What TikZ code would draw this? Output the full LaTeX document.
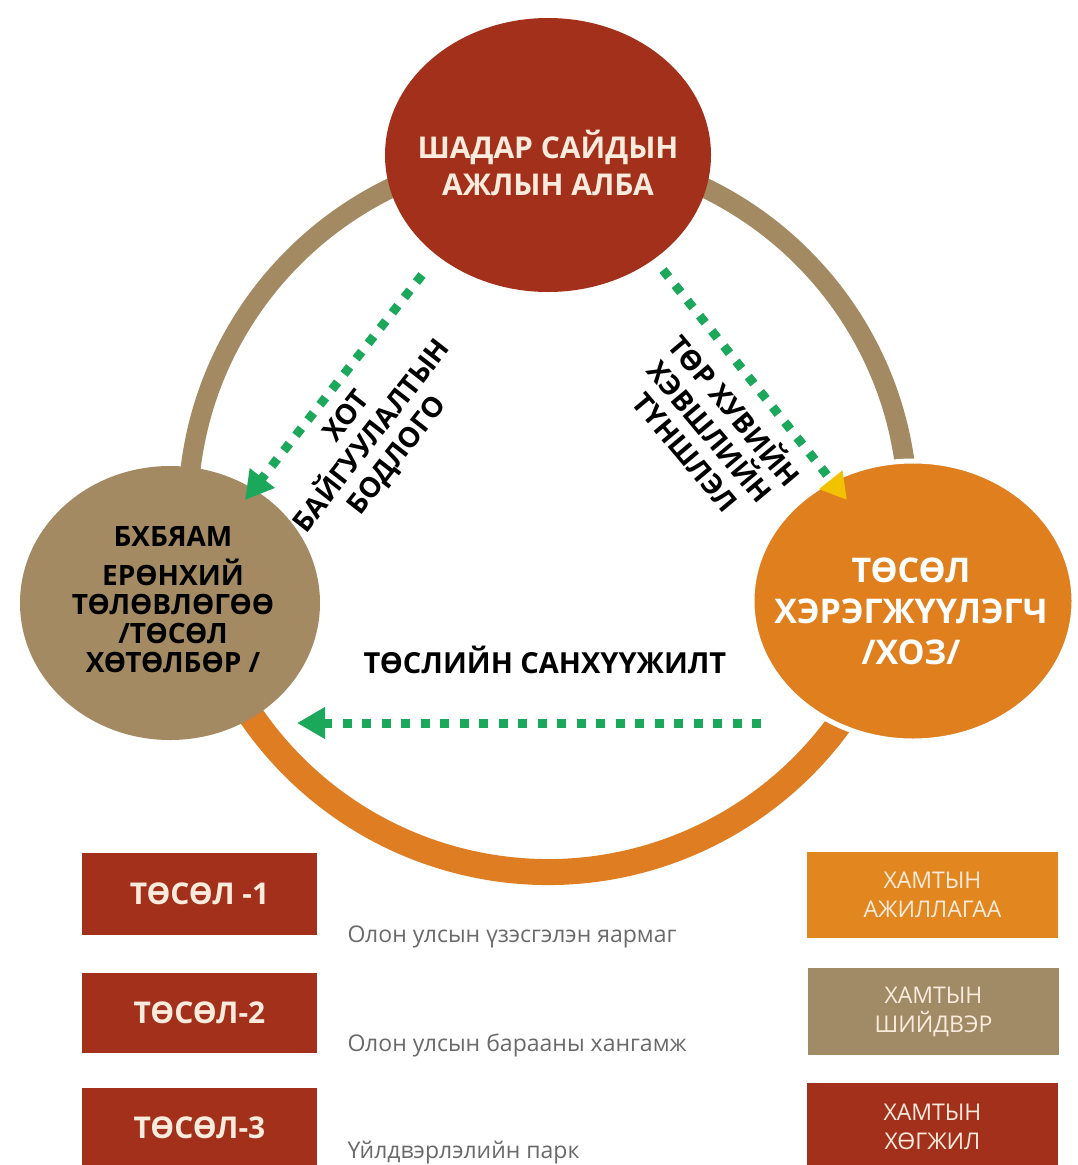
\documentclass[tikz,border=0pt]{standalone}
\usepackage{fontspec}
\setmainfont{Open Sans}
\usetikzlibrary{shapes.geometric,arrows.meta}
\definecolor{dred}{HTML}{A3301B}
\definecolor{tanc}{HTML}{A38A62}
\definecolor{tanb}{HTML}{A08B66}
\definecolor{oran}{HTML}{E07F1E}
\definecolor{ringor}{HTML}{DE7D22}
\definecolor{boxor}{HTML}{E2871F}
\definecolor{grn}{HTML}{1BA85B}
\definecolor{yel}{HTML}{F2C200}
\definecolor{cream}{HTML}{FBEBDD}
\definecolor{desc}{HTML}{6A6A6A}
\begin{document}
\begin{tikzpicture}[x=1pt,y=-1pt,
  circ/.style={ellipse,inner sep=0pt},
  ctext/.style={align=center,font=\bfseries\fontsize{30}{37}\selectfont},
  rlabel/.style={align=center,text=black,font=\bfseries\fontsize{28}{32}\selectfont},
  flow/.style={grn,line width=9pt,dash pattern=on 9pt off 10.5pt},
  tipg/.style={-{Triangle[length=28pt,width=30pt,color=grn]}},
  tipy/.style={-{Triangle[length=26pt,width=28pt,color=yel]}},
  lbox/.style={rectangle,inner sep=0pt,minimum width=235pt,minimum height=82pt,fill=dred,
    text=cream,font=\bfseries\fontsize{30}{32}\selectfont},
  rbox/.style={rectangle,inner sep=0pt,minimum width=251pt,minimum height=86pt,align=center,
    text=cream,font=\fontsize{23}{29}\selectfont},
  dtext/.style={anchor=west,text=desc,font=\fontsize{23}{26}\selectfont}]
\useasboundingbox (0,0) rectangle (1077,1165);
\fill[white] (0,0) rectangle (1077,1165);
% ring
\draw[tanc,line width=20pt] (548,512) circle[radius=360];
\draw[ringor,line width=26pt] (548,512) ++(13.7:360) arc[start angle=13.7,end angle=166.5,radius=360];
% circles
\node[circ,fill=dred,minimum width=326pt,minimum height=274pt] (top) at (548,155) {};
\node[circ,fill=tanc,minimum width=300pt,minimum height=274pt] (left) at (170,603) {};
\node[circ,fill=oran,draw=white,line width=5pt,minimum width=322pt,minimum height=280pt] (right) at (913,601) {};
\node[ctext,text=cream] (toptext) at (548,163) {ШАДАР САЙДЫН\\АЖЛЫН АЛБА};
\node[ctext,text=black,font=\bfseries\fontsize{28}{29}\selectfont] (lefttext) at (173,600)
  {БХБЯАМ\\[10pt]ЕРӨНХИЙ\\ТӨЛӨВЛӨГӨӨ\\/ТӨСӨЛ\\ХӨТӨЛБӨР /};
\node[ctext,text=white,font=\bfseries\fontsize{34}{41}\selectfont] (righttext) at (911,611)
  {ТӨСӨЛ\\ХЭРЭГЖҮҮЛЭГЧ\\/ХОЗ/};
% connectors
\coordinate (a1s) at (422,275);
\coordinate (a1e) at (245,500);
\coordinate (a2s) at (663,270);
\coordinate (a2e) at (847,500);
\coordinate (a3s) at (761,723);
\coordinate (a3e) at (297,723);
\draw[flow,tipg] (a1s) -- (a1e);
\draw[flow,tipy] (a2s) -- (a2e);
\draw[flow,tipg] (a3s) -- (a3e);
% labels
\node[rlabel,rotate=52] (lab1) at (373,437) {ХОТ\\БАЙГУУЛАЛТЫН\\БОДЛОГО};
\node[rlabel,rotate=-50] (lab2) at (712,430) {ТӨР ХУВИЙН\\ХЭВШЛИЙН\\ТҮНШЛЭЛ};
\node[rlabel,font=\bfseries\fontsize{29}{32}\selectfont] (lab3) at (545,660) {ТӨСЛИЙН САНХҮҮЖИЛТ};
% bottom boxes
\node[lbox] (p1) at (199.5,894) {ТӨСӨЛ -1};
\node[lbox,minimum height=80pt] (p2) at (199.5,1013) {ТӨСӨЛ-2};
\node[lbox,minimum height=80pt] (p3) at (199.5,1128) {ТӨСӨЛ-3};
\node[dtext] (d1) at (344,937) {Олон улсын үзэсгэлэн яармаг};
\node[dtext] (d2) at (344,1045) {Олон улсын барааны хангамж};
\node[dtext] (d3) at (344,1153) {Үйлдвэрлэлийн парк};
\node[rbox,fill=boxor] (h1) at (932.5,895) {ХАМТЫН\\АЖИЛЛАГАА};
\node[rbox,fill=tanb,minimum height=87pt] (h2) at (933.5,1011.5) {ХАМТЫН\\ШИЙДВЭР};
\node[rbox,fill=dred,minimum height=87pt] (h3) at (932.5,1126.5) {ХАМТЫН\\ХӨГЖИЛ};
\end{tikzpicture}
\end{document}
